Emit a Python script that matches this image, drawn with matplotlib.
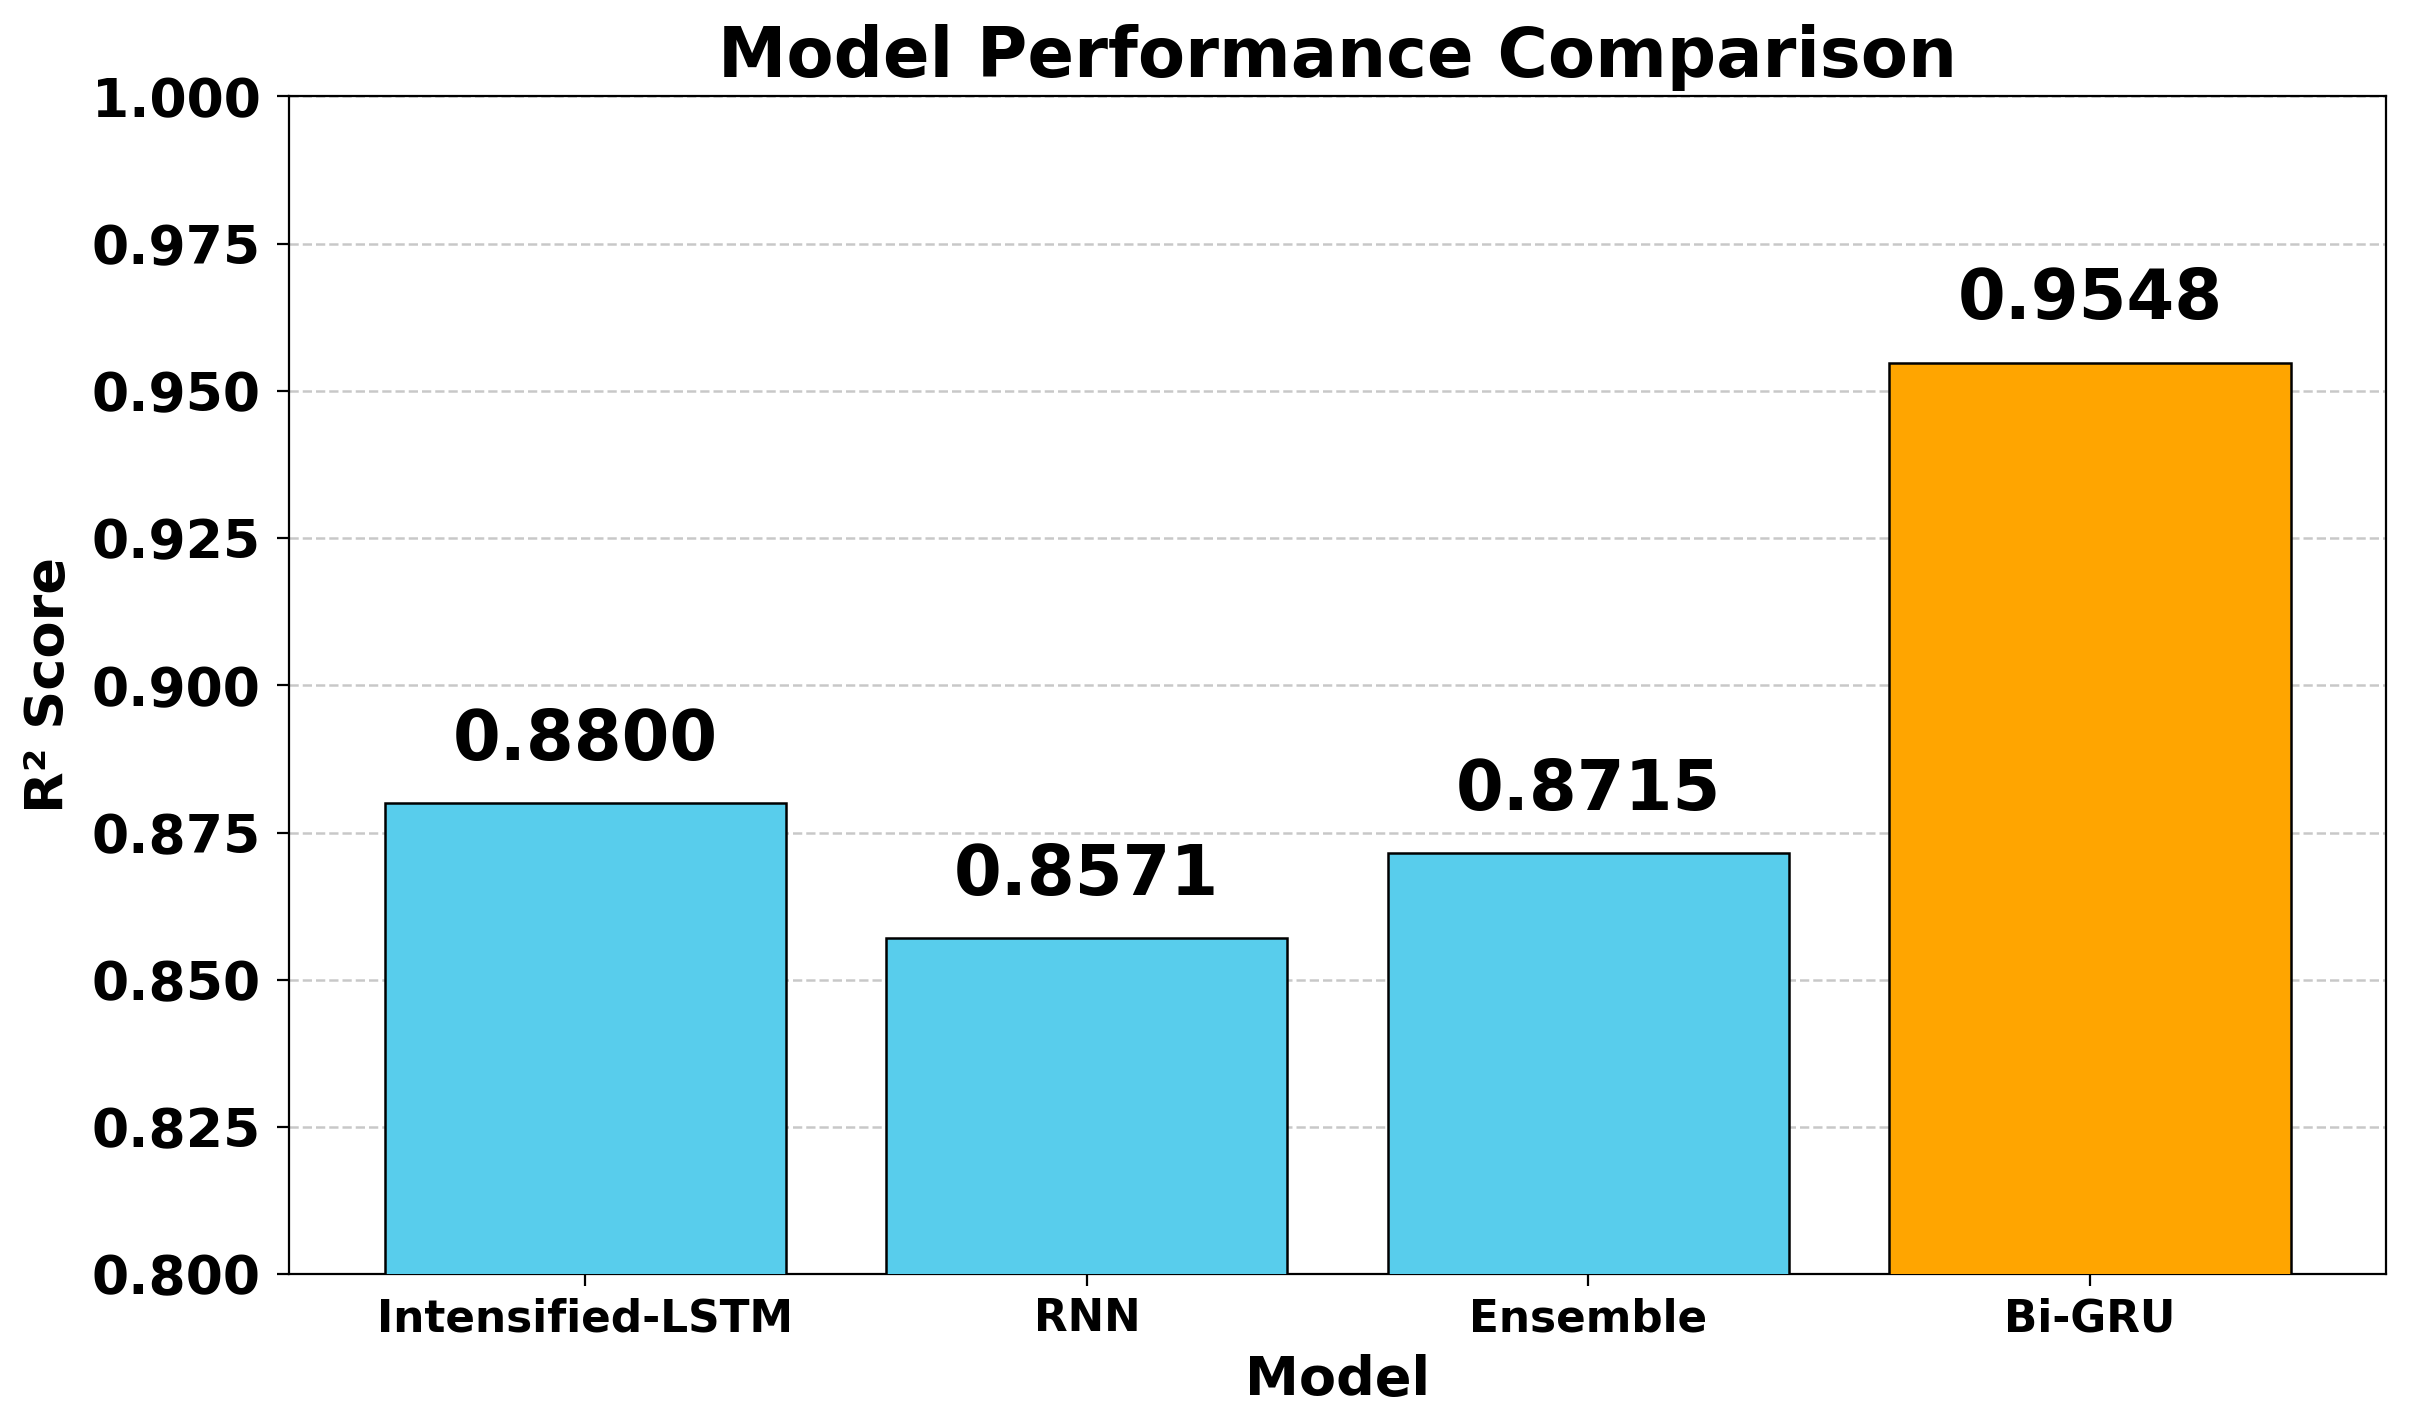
import matplotlib
matplotlib.use("Agg")
import matplotlib.pyplot as plt

# values
models = ["Intensified-LSTM", "RNN", "Ensemble", "Bi-GRU"]
r2_scores = [0.8800, 0.8571, 0.8715, 0.9548]
bar_colors = ["#58CDEC", "#58CDEC", "#58CDEC", "#FFA500"]
y_ticks = [0.800, 0.825, 0.850, 0.875, 0.900, 0.925, 0.950, 0.975, 1.000]

fig = plt.figure(figsize=(24.11, 14.19), dpi=100)
ax = fig.add_axes([0.120, 0.102, 0.8696, 0.830])

bars = ax.bar(models, r2_scores, width=0.8, color=bar_colors,
              edgecolor="black", linewidth=1.8, zorder=3)

# value labels above each bar
for b, v in zip(bars, r2_scores):
    ax.text(b.get_x() + b.get_width() / 2, v + 0.005, f"{v:.4f}",
            ha="center", va="bottom", fontsize=49.5, fontweight="bold")

ax.set_ylim(0.8, 1.0)
ax.set_yticks(y_ticks)
ax.set_yticklabels([f"{t:.3f}" for t in y_ticks])
ax.grid(axis="y", linestyle="--", color="#bbbbbb", linewidth=1.8, alpha=0.8, zorder=0)

ax.set_title("Model Performance Comparison", fontsize=49.5, fontweight="bold", pad=14)
ax.set_xlabel("Model", fontsize=39, fontweight="bold", labelpad=10)
ax.set_ylabel("R² Score", fontsize=39, fontweight="bold", labelpad=12)

ax.tick_params(axis="y", labelsize=38.5, length=8.5, width=1.6, pad=12)
ax.tick_params(axis="x", labelsize=31.5, length=8.5, width=1.6, pad=8)
for lab in ax.get_xticklabels() + ax.get_yticklabels():
    lab.set_fontweight("bold")
for s in ax.spines.values():
    s.set_linewidth(1.6)

fig.savefig("out.png", dpi=100)
